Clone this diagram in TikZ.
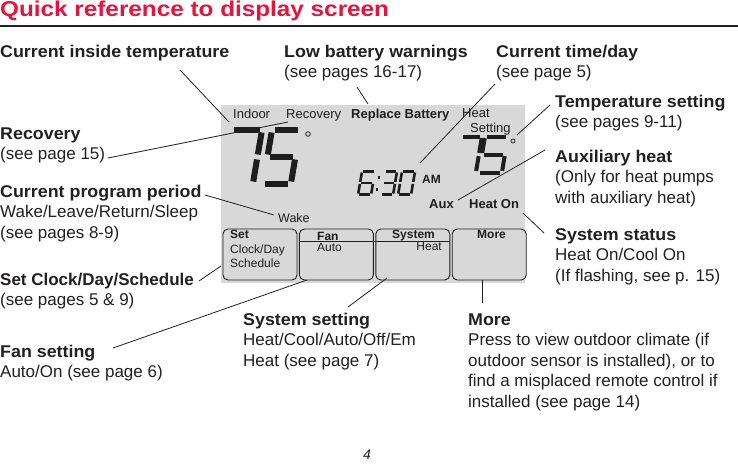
\documentclass[tikz,border=0pt]{standalone}
\usepackage{fontspec}
\setmainfont{Liberation Sans}
\newfontfamily\headfont[FakeStretch=1.13]{Liberation Sans}
\newfontfamily\labfont[FakeStretch=1.05]{Liberation Sans}
\usetikzlibrary{positioning}
\definecolor{qrred}{RGB}{224,22,64}
\definecolor{lcdgray}{RGB}{216,216,216}
\definecolor{lcdink}{RGB}{30,30,30}
\definecolor{qrink}{RGB}{35,31,32}

\newcommand{\hd}[1]{{\labfont\bfseries #1}}
% seven-segment lists: a=0/0/1/0 b=1/0/1/1 c=1/1/1/2 d=0/2/1/2 e=0/1/0/2 f=0/0/0/1 g=0/1/1/1
\def\lcdseven{0/0/1/0,1/0/1/1,1/1/1/2}
\def\lcdfive{0/0/1/0,0/0/0/1,0/1/1/1,1/1/1/2,0/2/1/2}
\def\lcdsix{0/0/1/0,0/0/0/1,0/1/1/1,0/1/0/2,0/2/1/2,1/1/1/2}
\def\lcdthree{0/0/1/0,1/0/1/1,0/1/1/1,1/1/1/2,0/2/1/2}
\def\lcdzero{0/0/1/0,1/0/1/1,1/1/1/2,0/2/1/2,0/1/0/2,0/0/0/1}
\newcommand{\lcddigit}[7]{%
  \begin{scope}[shift={(#1,#2)},x=#3pt,y=-#4pt,xslant=0.17]
    \foreach \ax/\ay/\bx/\by in #7 {\draw[lcdseg={#5}{#6}] (\ax,\ay) -- (\bx,\by);}
  \end{scope}}

\tikzset{
  lcdseg/.style 2 args={draw=lcdink, line width=#1, line cap=butt, shorten <=#2, shorten >=#2},
  lbl/.style={anchor=base west, inner sep=0pt, align=left, text=qrink, font=\fontsize{17}{20.5}\selectfont},
  lcdtxt/.style={anchor=base west, inner sep=0pt, text=lcdink, font=\fontsize{13}{15}\selectfont},
  btntxt/.style={anchor=base west, inner sep=0pt, text=lcdink, font=\fontsize{12}{14}\selectfont},
  btn/.style={draw=lcdink, line width=0.9pt, rounded corners=5pt, fill=lcdgray,
    minimum width=74pt, minimum height=51pt, inner sep=0pt},
  leader/.style={draw=qrink, line width=0.8pt}
}

\begin{document}
\begin{tikzpicture}[x=1pt,y=-1pt]
  \useasboundingbox (0,0) rectangle (738,463);
  \node[anchor=base west, inner sep=0pt, text=qrred, font=\headfont\bfseries\fontsize{21.5}{24}\selectfont]
    (title) at (0,16.7) {Quick reference to display screen};
  \draw[qrink, line width=1.1pt] (0,26) -- (738,26);

  % display
  \fill[lcdgray] (221,105) rectangle (525,283);
  \node[lcdtxt] (indoor) at (233,118) {Indoor};
  \node[lcdtxt] (recdisp) at (286,118) {Recovery};
  \node[lcdtxt, font=\bfseries\fontsize{13}{15}\selectfont] (battery) at (351,118) {Replace Battery};
  \node[lcdtxt] (heatdisp) at (462,117) {Heat};
  \node[lcdtxt] (setting) at (470,132.5) {Setting};
  \node[lcdtxt, font=\fontsize{12.5}{15}\selectfont] (wake) at (278,222) {Wake};
  \node[lcdtxt, font=\bfseries\fontsize{12}{14}\selectfont] (am) at (422,183) {AM};
  \node[lcdtxt, font=\bfseries\fontsize{13}{15}\selectfont] (aux) at (429,208) {Aux};
  \node[lcdtxt, font=\bfseries\fontsize{13}{15}\selectfont] (heaton) at (469,208) {Heat On};

  \lcddigit{231}{130}{31}{27}{6pt}{2.5pt}{\lcdseven}
  \lcddigit{272}{130}{28}{27}{6pt}{2.5pt}{\lcdfive}
  \lcddigit{461}{136.5}{21}{18}{4pt}{1.6pt}{\lcdseven}
  \lcddigit{485}{136.5}{23}{18}{4pt}{1.6pt}{\lcdfive}
  \lcddigit{362}{171.5}{13}{11.5}{2.6pt}{1pt}{\lcdsix}
  \lcddigit{385}{171.5}{12}{11.5}{2.6pt}{1pt}{\lcdthree}
  \lcddigit{402}{171.5}{13}{11.5}{2.6pt}{1pt}{\lcdzero}
  \fill[lcdink] (377.5,176) rectangle +(2.5,2.5);
  \fill[lcdink] (375.5,188) rectangle +(2.5,2.5);
  \draw[lcdink, line width=0.8pt] (308,134) circle (2.3);
  \draw[lcdink, line width=0.7pt] (513,141) circle (2);

  % buttons
  \node[btn] (bset) at (260,254.5) {};
  \node[btn, right=1.5pt of bset] (bfan) {};
  \node[btn, right=1.5pt of bfan] (bsys) {};
  \node[btn, right=1.5pt of bsys] (bmore) {};
  \draw[lcdink, line width=0.9pt] ([yshift=-13pt]bfan.north west) -- ([yshift=-13pt]bsys.north east);
  \node[btntxt, font=\bfseries\fontsize{12}{14}\selectfont] (tset) at (230,238) {Set};
  \node[btntxt] (tclock) at (230,253) {Clock/Day};
  \node[btntxt] (tsched) at (230,267) {Schedule};
  \node[btntxt, font=\bfseries\fontsize{12}{14}\selectfont] (tfan) at (317,240) {Fan};
  \node[btntxt] (tauto) at (317,251) {Auto};
  \node[btntxt, font=\bfseries\fontsize{12}{14}\selectfont] (tsys) at (392,238) {System};
  \node[btntxt, anchor=base east] (theat) at (442,250) {Heat};
  \node[btntxt, font=\bfseries\fontsize{12}{14}\selectfont] (tmore) at (477,238) {More};

  % callouts (base = last line)
  \node[lbl] (ctemp) at (0,57) {\hd{Current inside temperature}};
  \node[lbl] (lowbat) at (284,77.5) {\hd{Low battery warnings}\\(see pages 16-17)};
  \node[lbl] (curtime) at (496,77.5) {\hd{Current time/day}\\(see page 5)};
  \node[lbl] (recov) at (0,159.5) {\hd{Recovery}\\(see page 15)};
  \node[lbl] (tempset) at (555,127.5) {\hd{Temperature setting}\\(see pages 9-11)};
  \node[lbl] (auxheat) at (555,203) {\hd{Auxiliary heat}\\(Only for heat pumps\\with auxiliary heat)};
  \node[lbl] (progper) at (0,238) {\hd{Current program period}\\Wake/Leave/Return/Sleep\\(see pages 8-9)};
  \node[lbl] (sysstat) at (555,281) {\hd{System status}\\Heat On/Cool On\\(If flashing, see p. 15)};
  \node[lbl] (setclk) at (0,305.5) {{\bfseries Set Clock/Day/Schedule}\\(see pages 5 \& 9)};
  \node[lbl] (fanset) at (0,377.5) {\hd{Fan setting}\\Auto/On (see page 6)};
  \node[lbl] (sysset) at (243,366) {\hd{System setting}\\Heat/Cool/Auto/Off/Em\\Heat (see page 7)};
  \node[lbl] (moreinfo) at (468,407) {\hd{More}\\Press to view outdoor climate (if\\outdoor sensor is installed), or to\\find a misplaced remote control if\\installed (see page 14)};
  \node[anchor=base west, inner sep=0pt, text=qrink, font=\itshape\fontsize{14}{16}\selectfont] (pgno) at (363,459) {4};

  \coordinate (ctemp-a) at (180,70);   \coordinate (ctemp-b) at (229,122);
  \coordinate (recov-a) at (108,158);  \coordinate (recov-b) at (288,122);
  \coordinate (prog-a) at (205,195);   \coordinate (prog-b) at (274,215);
  \coordinate (clk-a) at (199,281);    \coordinate (clk-b) at (221,266);
  \coordinate (fan-a) at (113,348);    \coordinate (fan-b) at (307,280);
  \coordinate (sys-a) at (348,307);    \coordinate (sys-b) at (387,278);
  \coordinate (more-a) at (482,303);
  \coordinate (bat-a) at (357,87);     \coordinate (bat-b) at (368,104);
  \coordinate (time-a) at (495,84);    \coordinate (time-b) at (420,163);
  \coordinate (tset-a) at (550,105);   \coordinate (tset-b) at (517,135);
  \coordinate (aux-a) at (545,150);    \coordinate (aux-b) at (458,200);
  \coordinate (stat-a) at (523,213);   \coordinate (stat-b) at (544,233);
  \draw[leader] (ctemp-a) -- (ctemp-b);
  \draw[leader] (recov-a) -- (recov-b);
  \draw[leader] (prog-a) -- (prog-b);
  \draw[leader] (clk-a) -- (clk-b);
  \draw[leader] (fan-a) -- (fan-b);
  \draw[leader] (sys-a) -- (sys-b);
  \draw[leader] (more-a) -- (bmore.south -| more-a);
  \draw[leader] (bat-a) -- (bat-b);
  \draw[leader] (time-a) -- (time-b);
  \draw[leader] (tset-a) -- (tset-b);
  \draw[leader] (aux-a) -- (aux-b);
  \draw[leader] (stat-a) -- (stat-b);
\end{tikzpicture}
\end{document}
